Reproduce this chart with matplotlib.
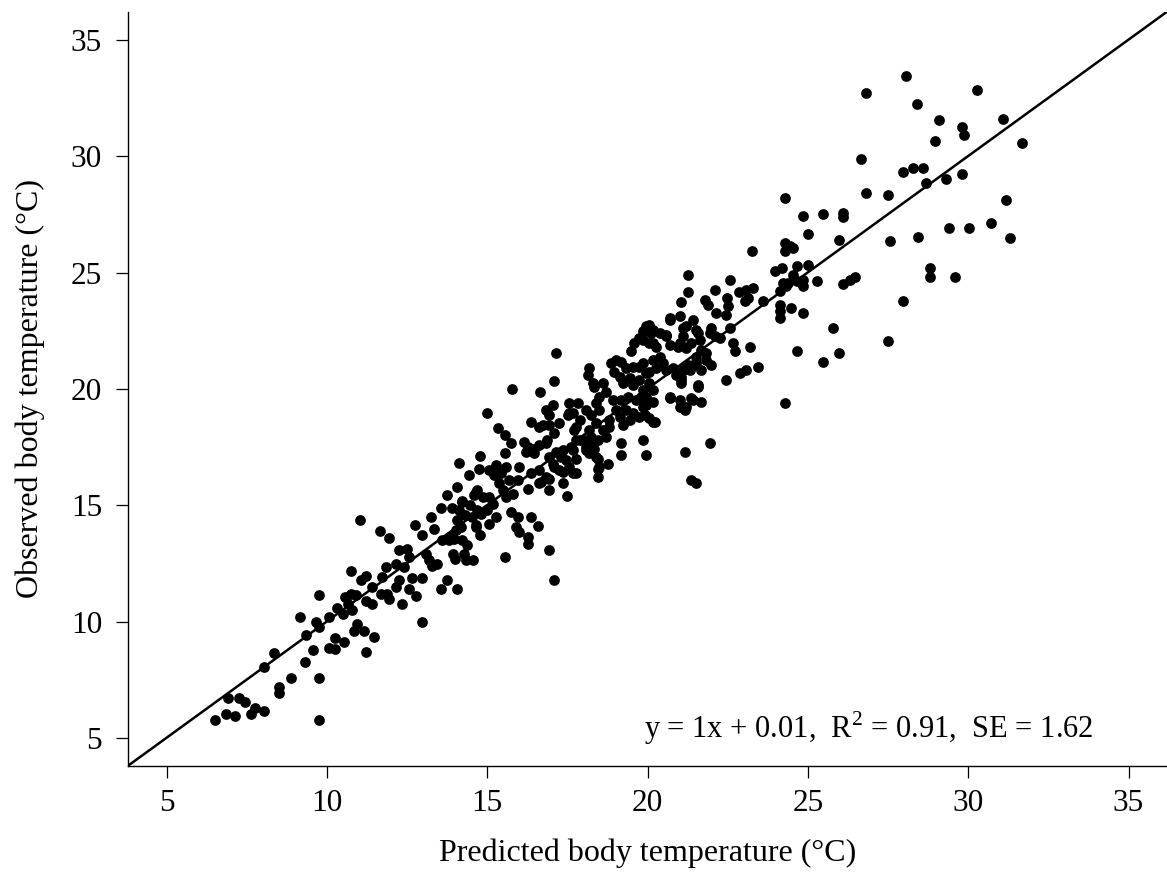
import matplotlib
matplotlib.use("Agg")
import matplotlib.pyplot as plt

plt.rcParams['font.family'] = ['Liberation Serif', 'DejaVu Serif']
plt.rcParams['mathtext.fontset'] = 'custom'
plt.rcParams['mathtext.rm'] = 'Liberation Serif'

# (predicted, observed) body temperatures in degC
cool_pts = [
    (6.52, 5.76), (6.84, 6.05), (7.15, 5.95), (6.91, 6.72), (7.25, 6.72), (7.44, 6.55),
    (7.62, 6.05), (7.75, 6.31), (8.05, 6.16), (8.04, 8.07), (8.35, 8.66), (8.52, 7.19),
    (8.52, 6.95), (8.87, 7.56), (9.33, 8.27), (9.15, 10.18), (9.35, 9.44), (9.56, 8.78),
    (9.75, 7.56), (9.77, 5.76), (9.65, 9.97), (9.77, 9.76), (9.77, 11.15), (10.06, 10.18),
    (10.06, 8.88), (10.27, 8.81), (10.25, 9.28), (10.32, 10.6), (10.53, 9.14), (10.67, 10.74),
    (10.5, 10.35), (10.74, 11.2), (10.9, 11.13), (10.77, 10.5), (10.95, 9.9), (10.84, 9.58),
    (11.16, 9.58), (11.21, 8.68), (10.75, 12.17), (11.05, 11.77), (11.21, 11.98), (11.21, 10.9),
]

low_pts = [
    (11.03, 14.38), (11.65, 13.89), (11.94, 13.59), (12.75, 14.14), (12.96, 13.71), (13.25, 14.5),
    (13.34, 13.97), (13.55, 14.88), (13.74, 15.46), (14.05, 15.79), (14.12, 16.8), (14.44, 16.29),
    (14.75, 16.58), (14.23, 15.14), (14.65, 15.57), (14.65, 14.14), (14.78, 13.71), (14.33, 12.66),
    (14.56, 12.66), (13.55, 11.41), (13.76, 11.8), (14.07, 11.41), (12.96, 9.97), (12.77, 11.12),
    (12.35, 10.76), (12.56, 11.41), (12.96, 11.88), (12.65, 11.88), (12.25, 11.8), (12.15, 11.51),
    (11.88, 11.21), (11.68, 11.19), (11.42, 11.51), (10.58, 11.05), (11.4, 10.78), (11.94, 10.99),
    (11.47, 9.35), (11.73, 11.91), (12.25, 13.06), (12.51, 13.13), (12.15, 12.48), (12.41, 12.34),
    (12.56, 12.77), (13.08, 12.91), (13.29, 12.41), (13.45, 12.48), (13.19, 12.63), (11.83, 12.34),
    (13.9, 14.9), (14.3, 14.6), (14.2, 15.2), (14.45, 15.0), (13.8, 13.5), (14.0, 12.7),
]

mid_pts = [
    (15.76, 19.99), (16.66, 19.88), (17.07, 20.34), (14.99, 18.98), (15.34, 18.31), (15.55, 18.02),
    (15.74, 17.66), (15.55, 17.23), (16.36, 18.59), (16.63, 18.37), (16.94, 18.45), (17.04, 19.31),
    (17.25, 18.52), (17.56, 19.38), (17.82, 19.38), (17.56, 18.95), (18.08, 19.09), (18.4, 19.38),
    (18.29, 20.24), (17.09, 18.09), (16.16, 17.73), (16.26, 17.51), (16.47, 17.44), (16.63, 17.59),
    (16.83, 17.66), (16.21, 17.3), (16.47, 17.23), (16.94, 17.08), (17.15, 17.3), (17.35, 17.37),
    (17.62, 17.51), (17.77, 18.37), (17.88, 17.8), (18.08, 17.37), (18.24, 17.94), (18.34, 17.44),
    (18.4, 17.08), (18.45, 16.58), (18.45, 16.22), (17.77, 17.01), (17.77, 16.37), (17.46, 16.94),
    (17.35, 16.44), (17.35, 15.94), (17.49, 15.4), (17.09, 16.65), (16.94, 16.15), (16.94, 15.65),
    (16.63, 16.51), (16.63, 15.94), (16.36, 16.37), (16.26, 15.72), (16.0, 16.65), (15.95, 16.08),
    (15.79, 15.5), (15.74, 14.71), (15.97, 14.5), (16.36, 14.5), (16.57, 14.11), (15.9, 14.06),
    (16.0, 13.85), (16.26, 13.63), (16.26, 13.35), (16.94, 13.06), (15.56, 12.8), (17.09, 11.77),
    (14.77, 17.11), (15.06, 16.51), (15.27, 16.72), (15.22, 16.29), (15.43, 16.37), (15.58, 16.65),
    (15.69, 16.08), (15.38, 15.94), (14.69, 15.65), (14.86, 15.36), (14.59, 15.43), (15.06, 15.36),
    (15.17, 15.07), (15.01, 14.78), (15.27, 14.5), (15.48, 15.65), (15.58, 15.36), (14.69, 14.78),
    (14.54, 14.5), (14.8, 14.64), (15.06, 14.21), (14.65, 14.06), (14.13, 14.78), (14.07, 14.35),
    (14.02, 13.92), (14.18, 14.06), (13.97, 13.56), (14.23, 13.49), (14.38, 13.28), (13.92, 12.92),
    (13.81, 13.63), (13.6, 13.49), (14.28, 12.92),
]

warm_pts = [
    (17.15, 21.54), (18.19, 20.89), (18.13, 20.6), (18.34, 20.1), (18.6, 20.24), (18.5, 19.67),
    (18.71, 19.88), (16.83, 19.09), (16.94, 18.88), (16.73, 18.45), (16.88, 17.8), (17.67, 18.95),
    (17.51, 18.88), (17.88, 18.66), (18.24, 18.88), (18.5, 19.09), (18.4, 18.52), (18.19, 18.23),
    (18.6, 18.23), (18.71, 17.94), (18.81, 18.37), (17.72, 18.23), (17.77, 17.8), (18.03, 17.8),
    (18.29, 17.8), (18.45, 17.8), (18.08, 17.51), (18.19, 17.23), (18.45, 17.01), (18.5, 16.65),
    (18.76, 16.79), (19.18, 17.66), (19.18, 17.16), (19.85, 17.8), (19.96, 17.16), (21.16, 17.3),
    (17.3, 17.08), (17.04, 16.79), (17.25, 16.51), (17.56, 16.65), (17.67, 16.37), (17.67, 17.37),
    (16.83, 16.22), (16.68, 16.0), (18.86, 21.1), (19.02, 21.25), (19.18, 21.18), (19.33, 20.89),
    (19.54, 20.96), (19.75, 20.96), (19.44, 20.46), (19.13, 20.53), (18.97, 20.75), (19.23, 20.24),
    (19.54, 20.17), (19.75, 20.39), (19.96, 20.68), (20.06, 20.24), (20.17, 19.96), (19.96, 19.67),
    (19.85, 19.24), (19.65, 19.53), (19.38, 19.67), (19.18, 19.53), (19.02, 19.09), (18.92, 19.53),
    (19.33, 19.09), (19.54, 18.95), (19.75, 18.81), (20.06, 18.74), (20.22, 18.59), (19.44, 18.66),
    (19.23, 18.45), (19.13, 18.81), (18.81, 18.66), (19.49, 21.61), (19.59, 21.97), (19.75, 22.18),
    (19.85, 22.47), (19.96, 22.69), (20.06, 22.76), (20.11, 22.4), (20.17, 21.97), (20.27, 21.82),
    (20.38, 21.39), (20.48, 21.1), (20.58, 20.82), (20.38, 22.4), (20.58, 22.33), (20.69, 23.05),
    (21.0, 23.12), (21.21, 22.69), (21.1, 22.26), (21.0, 21.97), (21.21, 21.75), (21.42, 22.97),
    (21.52, 22.54), (21.36, 21.97), (21.52, 21.1), (21.31, 20.82), (21.1, 20.82), (21.05, 20.39),
    (20.69, 19.67), (21.0, 19.53), (21.21, 19.24), (21.42, 19.53), (21.57, 20.1), (21.36, 16.08),
    (21.52, 15.94),
]

hot_pts = [
    (23.27, 25.92), (24.28, 25.92), (21.26, 24.91), (22.56, 24.7), (22.09, 24.27), (21.26, 24.15),
    (21.05, 23.72), (21.78, 23.84), (21.89, 23.62), (22.48, 23.91), (22.51, 23.55), (22.85, 24.15),
    (23.08, 24.27), (23.29, 24.34), (23.14, 23.91), (23.03, 23.76), (22.15, 23.26), (22.46, 23.19),
    (23.6, 23.76), (23.97, 25.06), (24.18, 25.2), (24.65, 25.27), (24.54, 24.91), (24.23, 24.56),
    (24.13, 24.2), (24.33, 24.41), (24.65, 24.63), (24.13, 23.62), (24.13, 23.33), (24.13, 23.04),
    (24.49, 23.48), (24.65, 21.61), (24.28, 19.38), (20.69, 22.97), (21.1, 22.61), (21.57, 22.4),
    (21.63, 22.11), (21.94, 22.4), (22.09, 22.26), (22.25, 22.18), (22.56, 22.61), (21.99, 22.61),
    (20.17, 22.54), (19.85, 22.11), (20.06, 21.97), (20.58, 22.26), (20.69, 21.9), (20.95, 21.82),
    (21.68, 21.68), (21.52, 21.39), (21.83, 21.54), (21.83, 21.25), (21.99, 21.03), (21.26, 21.03),
    (19.85, 21.1), (20.17, 21.25), (20.27, 20.89), (20.06, 20.75), (20.79, 20.89), (20.9, 20.6),
    (21.05, 20.53), (21.05, 20.24), (21.21, 20.96), (21.42, 21.03), (21.68, 20.82), (21.57, 20.17),
    (21.36, 19.6), (21.68, 19.45), (21.0, 19.24), (21.16, 19.09), (20.69, 19.6), (19.85, 19.96),
    (19.8, 19.67), (19.96, 19.31), (19.91, 18.88), (20.17, 18.59), (20.17, 19.45), (21.94, 17.66),
    (22.46, 20.39), (22.88, 20.68), (23.08, 20.82), (23.45, 20.94), (22.67, 21.97), (22.72, 21.61),
    (23.19, 21.82),
]

top_pts = [
    (24.3, 28.22), (26.81, 28.43), (27.49, 28.33), (24.85, 27.43), (25.48, 27.53), (26.1, 27.57),
    (26.1, 27.4), (24.99, 26.64), (25.97, 26.39), (27.56, 26.35), (28.45, 26.52), (24.28, 26.28),
    (24.44, 26.13), (24.54, 26.06), (25.01, 25.34), (24.38, 24.56), (24.85, 24.7), (24.85, 24.41),
    (25.27, 24.63), (26.1, 24.53), (26.31, 24.7), (26.47, 24.81), (24.85, 23.28), (27.97, 23.79),
    (25.77, 22.6), (27.49, 22.08), (25.98, 21.54), (25.48, 21.18),
    (28.06, 33.43), (30.29, 32.84), (28.39, 32.24), (29.1, 31.55), (31.1, 31.62), (29.8, 31.25),
    (29.88, 30.91), (28.97, 30.66), (31.68, 30.55), (27.98, 29.34), (28.27, 29.51), (28.6, 29.51),
    (28.69, 28.84), (29.31, 29.01), (29.8, 29.22), (31.19, 28.1), (29.39, 26.9), (30.01, 26.9),
    (30.71, 27.14), (31.31, 26.49), (28.81, 25.2), (28.81, 24.8), (29.59, 24.8), (26.8, 32.7),
    (26.66, 29.9),
]

slope = 1
intercept = 0.01
r2 = 0.91
se = 1.62
ticks = [5, 10, 15, 20, 25, 30, 35]

allpts = cool_pts + low_pts + mid_pts + warm_pts + hot_pts + top_pts
predicted = [p[0] for p in allpts]
observed = [p[1] for p in allpts]

fig = plt.figure(figsize=(11.67, 8.73), dpi=100)
ax = fig.add_axes([0.1097, 0.1226, 0.8903, 0.8637])

ax.scatter(predicted, observed, s=60, color='black', linewidths=0, zorder=3)
ax.axline((0, intercept), slope=slope, color='black', lw=1.8, zorder=2)

ax.set_xlim(3.8, 36.2)
ax.set_ylim(3.8, 36.2)
ax.set_xticks(ticks)
ax.set_yticks(ticks)

for side in ['top', 'right']:
    ax.spines[side].set_visible(False)
for side in ['left', 'bottom']:
    ax.spines[side].set_linewidth(1.0)

ax.tick_params(direction='out', length=8.6, width=0.9, labelsize=22.5)
ax.tick_params(axis='x', pad=8)
ax.tick_params(axis='y', pad=10)

ax.set_xlabel('Predicted body temperature (°C)', fontsize=23, labelpad=15)
ax.set_ylabel('Observed body temperature (°C)', fontsize=23, labelpad=19)

txt = f'y = {slope}x + {intercept},  R$^2$ = {r2},  SE = {se}'
ax.text(33.9, 5.0, txt, ha='right', va='baseline', fontsize=22)

fig.savefig('out.png', dpi=100)
